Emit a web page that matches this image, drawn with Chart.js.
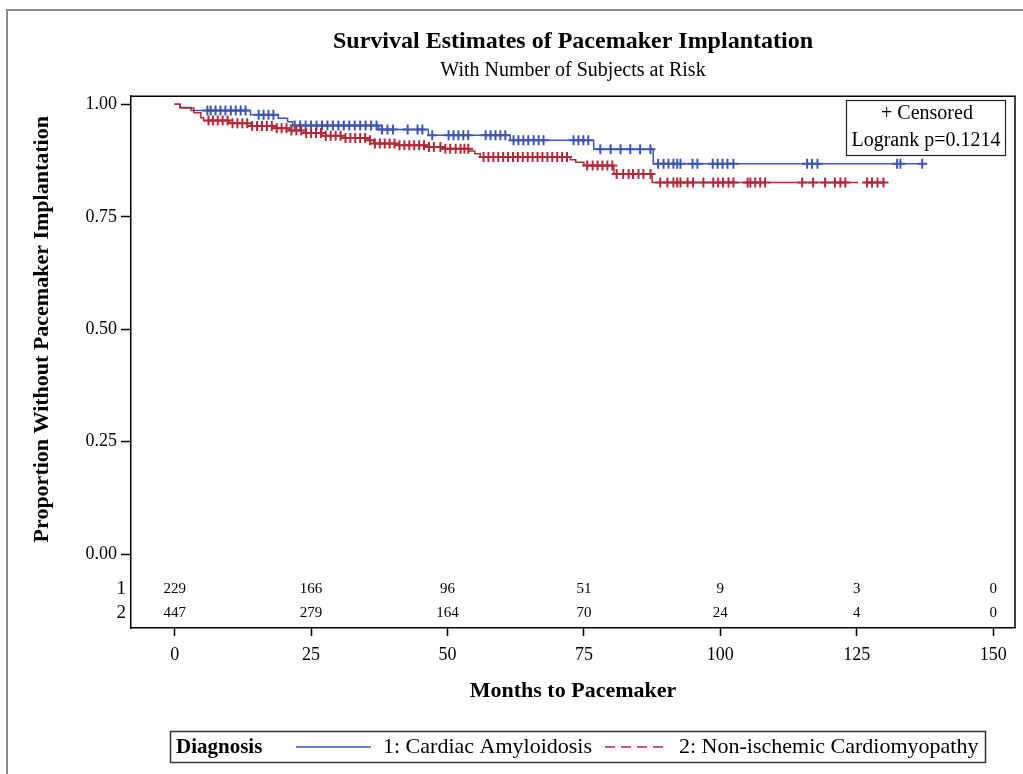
<!DOCTYPE html>
<html>
<head>
<meta charset="utf-8">
<script src="https://cdn.jsdelivr.net/npm/chart.js@4.4.1/dist/chart.umd.min.js"></script>
<style>
  html, body { margin: 0; padding: 0; background: #fff; }
</style>
</head>
<body>
<canvas id="km" width="1023" height="774"></canvas>
<script>
const FONT = '"Liberation Serif", "DejaVu Serif", serif';
const BLUE = '#3F56B0';
const RED = '#B02A3A';

// Kaplan-Meier steps: time the estimate changes and the estimate from then on
const caTimes = [0, 1, 3, 13.9, 19, 20.7, 21.6, 37.4, 46.5, 61.5, 76.8, 87.7, 137];
const caSurv = [1, 0.993, 0.986, 0.977, 0.969, 0.961, 0.953, 0.944, 0.931, 0.92, 0.9, 0.868, 0.868];
const caCensor = [6, 6.6, 7.5, 8.4, 9.3, 10.3, 11.2, 12.1, 13, 15.4, 16.3, 17.2, 18.1,
  22, 23, 24, 25, 26, 27, 28, 29, 30, 31, 32, 33, 34, 35, 36, 37,
  38, 39, 40, 42.7, 44.5, 45.4, 47.2,
  50.2, 51.1, 52, 52.9, 53.8, 57, 57.9, 58.8, 59.7, 60.6,
  62.1, 63, 63.9, 64.8, 65.8, 66.7, 67.6,
  73.1, 74, 74.9, 75.8, 78, 79.9, 81.7, 83.5, 85.3, 87.2,
  88.6, 89.6, 90.5, 91.4, 92.1, 92.7, 94.9, 95.8, 98.6, 99.5, 100.4, 101.3, 102.4,
  115.9, 116.8, 117.8, 132.4, 133, 137];

const nicmTimes = [0, 1, 3.5, 4.8, 5.3, 10, 14, 18, 21, 24, 27, 30.5, 35, 36.5, 41, 46, 49, 54, 55, 56, 72.5, 73.5, 75, 80.5, 87.5, 130];
const nicmSurv = [1, 0.992, 0.981, 0.97, 0.964, 0.958, 0.952, 0.947, 0.942, 0.936, 0.93, 0.925, 0.92, 0.913, 0.909, 0.905, 0.901, 0.896, 0.89, 0.883, 0.877, 0.871, 0.864, 0.845, 0.826, 0.826];
const nicmCensor = [6.2, 7, 7.9, 8.8, 9.7, 10.6, 11.5, 12.4, 13.3, 14.2, 15.1, 16, 16.9, 17.8, 18.7,
  19.6, 20.5, 21.4, 22.3, 23.2, 24.1, 25, 25.9, 26.8, 27.7, 28.6, 29.5, 30.4, 31.3, 32.2,
  33.1, 34, 34.9, 35.8, 36.7, 37.6, 38.5, 39.4, 40.3, 41.2, 42.1, 43, 43.9, 44.8, 45.7,
  46.6, 47.5, 48.7, 49.6, 50.5, 51.5, 52.4, 53.1, 53.8,
  56.6, 57.5, 58.4, 59.3, 60.2, 61.1, 62, 62.9, 63.8, 64.7, 65.6, 66.5, 67.4, 68.3, 69.2, 70.1, 71, 71.9,
  75.6, 76.6, 77.5, 78.4, 79.3, 80.2,
  81, 82.2, 83.2, 84, 85, 85.9, 87.2,
  89, 90.3, 91.4, 92.1, 92.7, 94, 95, 96.9, 98.7, 99.6, 100.5, 101.5, 102.4,
  105, 105.5, 106.4, 107.3, 108.2, 115, 117, 119.2, 121, 122, 122.9, 126.9, 127.8, 128.8, 129.9];

// number at risk
const riskTimes = [0, 25, 50, 75, 100, 125, 150];
const riskCA = [229, 166, 96, 51, 9, 3, 0];
const riskNICM = [447, 279, 164, 70, 24, 4, 0];

const xTicks = [0, 25, 50, 75, 100, 125, 150];
const yTicks = [0, 0.25, 0.5, 0.75, 1];

function survAt(times, surv, t) {
  let s = surv[0];
  for (let i = 0; i < times.length; i++) {
    if (times[i] <= t) s = surv[i];
  }
  return s;
}

const toSteps = (times, surv) => times.map((t, i) => ({ x: t, y: surv[i] }));
const toMarks = (cens, times, surv) => cens.map(t => ({ x: t, y: survAt(times, surv, t) }));

// frame, y title, risk table, inset box and legend
const decor = {
  id: 'decor',
  beforeDraw(chart) {
    const c = chart.ctx;
    c.save();
    c.strokeStyle = '#8a8a8a';
    c.lineWidth = 2;
    c.beginPath();
    c.moveTo(7, 774);
    c.lineTo(7, 10);
    c.lineTo(1023, 10);
    c.stroke();
    c.restore();
  },
  afterDraw(chart) {
    const c = chart.ctx;
    const a = chart.chartArea;
    const x = chart.scales.x;
    const y = chart.scales.y;
    c.save();
    c.strokeStyle = '#000';
    c.lineWidth = 1.5;
    c.beginPath();
    c.moveTo(a.left, a.top);
    c.lineTo(a.right, a.top);
    c.lineTo(a.right, a.bottom);
    c.stroke();

    // y title, centred on the 0..1 range like SAS does
    c.fillStyle = '#000';
    c.save();
    c.translate(42, y.getPixelForValue(0.5));
    c.rotate(-Math.PI / 2);
    c.font = 'bold 22px ' + FONT;
    c.textAlign = 'center';
    c.textBaseline = 'middle';
    c.fillText('Proportion Without Pacemaker Implantation', 0, 0);
    c.restore();

    // at-risk rows
    const row1 = y.getPixelForValue(-0.078);
    const row2 = y.getPixelForValue(-0.131);
    c.textBaseline = 'middle';
    c.font = '15px ' + FONT;
    c.textAlign = 'center';
    riskTimes.forEach((t, i) => {
      c.fillText(String(riskCA[i]), x.getPixelForValue(t), row1);
      c.fillText(String(riskNICM[i]), x.getPixelForValue(t), row2);
    });
    c.font = '19px ' + FONT;
    c.textAlign = 'right';
    c.fillText('1', a.left - 5, row1);
    c.fillText('2', a.left - 5, row2);

    // inset
    c.lineWidth = 1.2;
    c.strokeStyle = '#222';
    c.strokeRect(846.5, 100.5, 159, 55);
    c.font = '20px ' + FONT;
    c.textAlign = 'center';
    c.fillText('+ Censored', 927, 114);
    c.fillText('Logrank p=0.1214', 926, 141);

    // legend
    const ds = chart.data.datasets;
    c.strokeStyle = '#333';
    c.lineWidth = 1.5;
    c.strokeRect(170.5, 731.5, 815, 31);
    const ly = 747;
    c.textAlign = 'left';
    c.font = 'bold 21px ' + FONT;
    c.fillText('Diagnosis', 176, ly + 1);
    c.lineWidth = 1.5;
    c.strokeStyle = BLUE;
    c.beginPath();
    c.moveTo(296, ly);
    c.lineTo(371, ly);
    c.stroke();
    c.font = '22px ' + FONT;
    c.fillText(ds[2].label, 383, ly);
    c.strokeStyle = RED;
    c.setLineDash([10, 6]);
    c.beginPath();
    c.moveTo(605, ly);
    c.lineTo(668, ly);
    c.stroke();
    c.setLineDash([]);
    c.fillText(ds[0].label, 679, ly);
    c.restore();
  }
};

new Chart(document.getElementById('km'), {
  type: 'line',
  data: {
    datasets: [
      {
        label: '2: Non-ischemic Cardiomyopathy',
        data: toSteps(nicmTimes, nicmSurv),
        borderColor: RED,
        borderWidth: 1.5,
        borderDash: [90, 6],
        stepped: 'before',
        pointRadius: 0,
        fill: false
      },
      {
        label: 'censor 2',
        data: toMarks(nicmCensor, nicmTimes, nicmSurv),
        showLine: false,
        pointStyle: 'cross',
        pointRadius: 5,
        pointBorderWidth: 2,
        borderColor: RED,
        backgroundColor: RED
      },
      {
        label: '1: Cardiac Amyloidosis',
        data: toSteps(caTimes, caSurv),
        borderColor: BLUE,
        borderWidth: 1.5,
        stepped: 'before',
        pointRadius: 0,
        fill: false
      },
      {
        label: 'censor 1',
        data: toMarks(caCensor, caTimes, caSurv),
        showLine: false,
        pointStyle: 'cross',
        pointRadius: 5,
        pointBorderWidth: 2,
        borderColor: BLUE,
        backgroundColor: BLUE
      }
    ]
  },
  options: {
    responsive: false,
    animation: false,
    layout: { padding: { left: 0, right: 8, top: 0, bottom: 69 } },
    scales: {
      x: {
        type: 'linear',
        min: -8,
        max: 154,
        afterBuildTicks: s => { s.ticks = xTicks.map(v => ({ value: v })); },
        afterFit: s => { s.height = 77; },
        ticks: { color: '#000', font: { family: FONT, size: 18 }, padding: 8, maxRotation: 0 },
        grid: { drawOnChartArea: false, drawTicks: true, tickLength: 8, tickColor: '#000', tickWidth: 1.5 },
        border: { color: '#000', width: 1.5 },
        title: {
          display: true,
          text: 'Months to Pacemaker',
          color: '#000',
          font: { family: FONT, size: 22, weight: 'bold' },
          padding: { top: 0, bottom: 0 }
        }
      },
      y: {
        min: -0.164,
        max: 1.018,
        afterBuildTicks: s => { s.ticks = yTicks.map(v => ({ value: v })); },
        afterFit: s => { s.width = 131; },
        ticks: { color: '#000', font: { family: FONT, size: 18 }, padding: 4, callback: v => v.toFixed(2) },
        grid: { drawOnChartArea: false, drawTicks: true, tickLength: 10, tickColor: '#000', tickWidth: 1.5 },
        border: { color: '#000', width: 1.5 },
        title: { display: false }
      }
    },
    plugins: {
      legend: { display: false },
      tooltip: { enabled: false },
      title: {
        display: true,
        fullSize: false,
        text: 'Survival Estimates of Pacemaker Implantation',
        color: '#000',
        font: { family: FONT, size: 24, weight: 'bold' },
        padding: { top: 27.6, bottom: 2.2 }
      },
      subtitle: {
        display: true,
        fullSize: false,
        text: 'With Number of Subjects at Risk',
        color: '#000',
        font: { family: FONT, size: 20 },
        padding: { top: 0, bottom: 13.6 }
      }
    }
  },
  plugins: [decor]
});
</script>
</body>
</html>
